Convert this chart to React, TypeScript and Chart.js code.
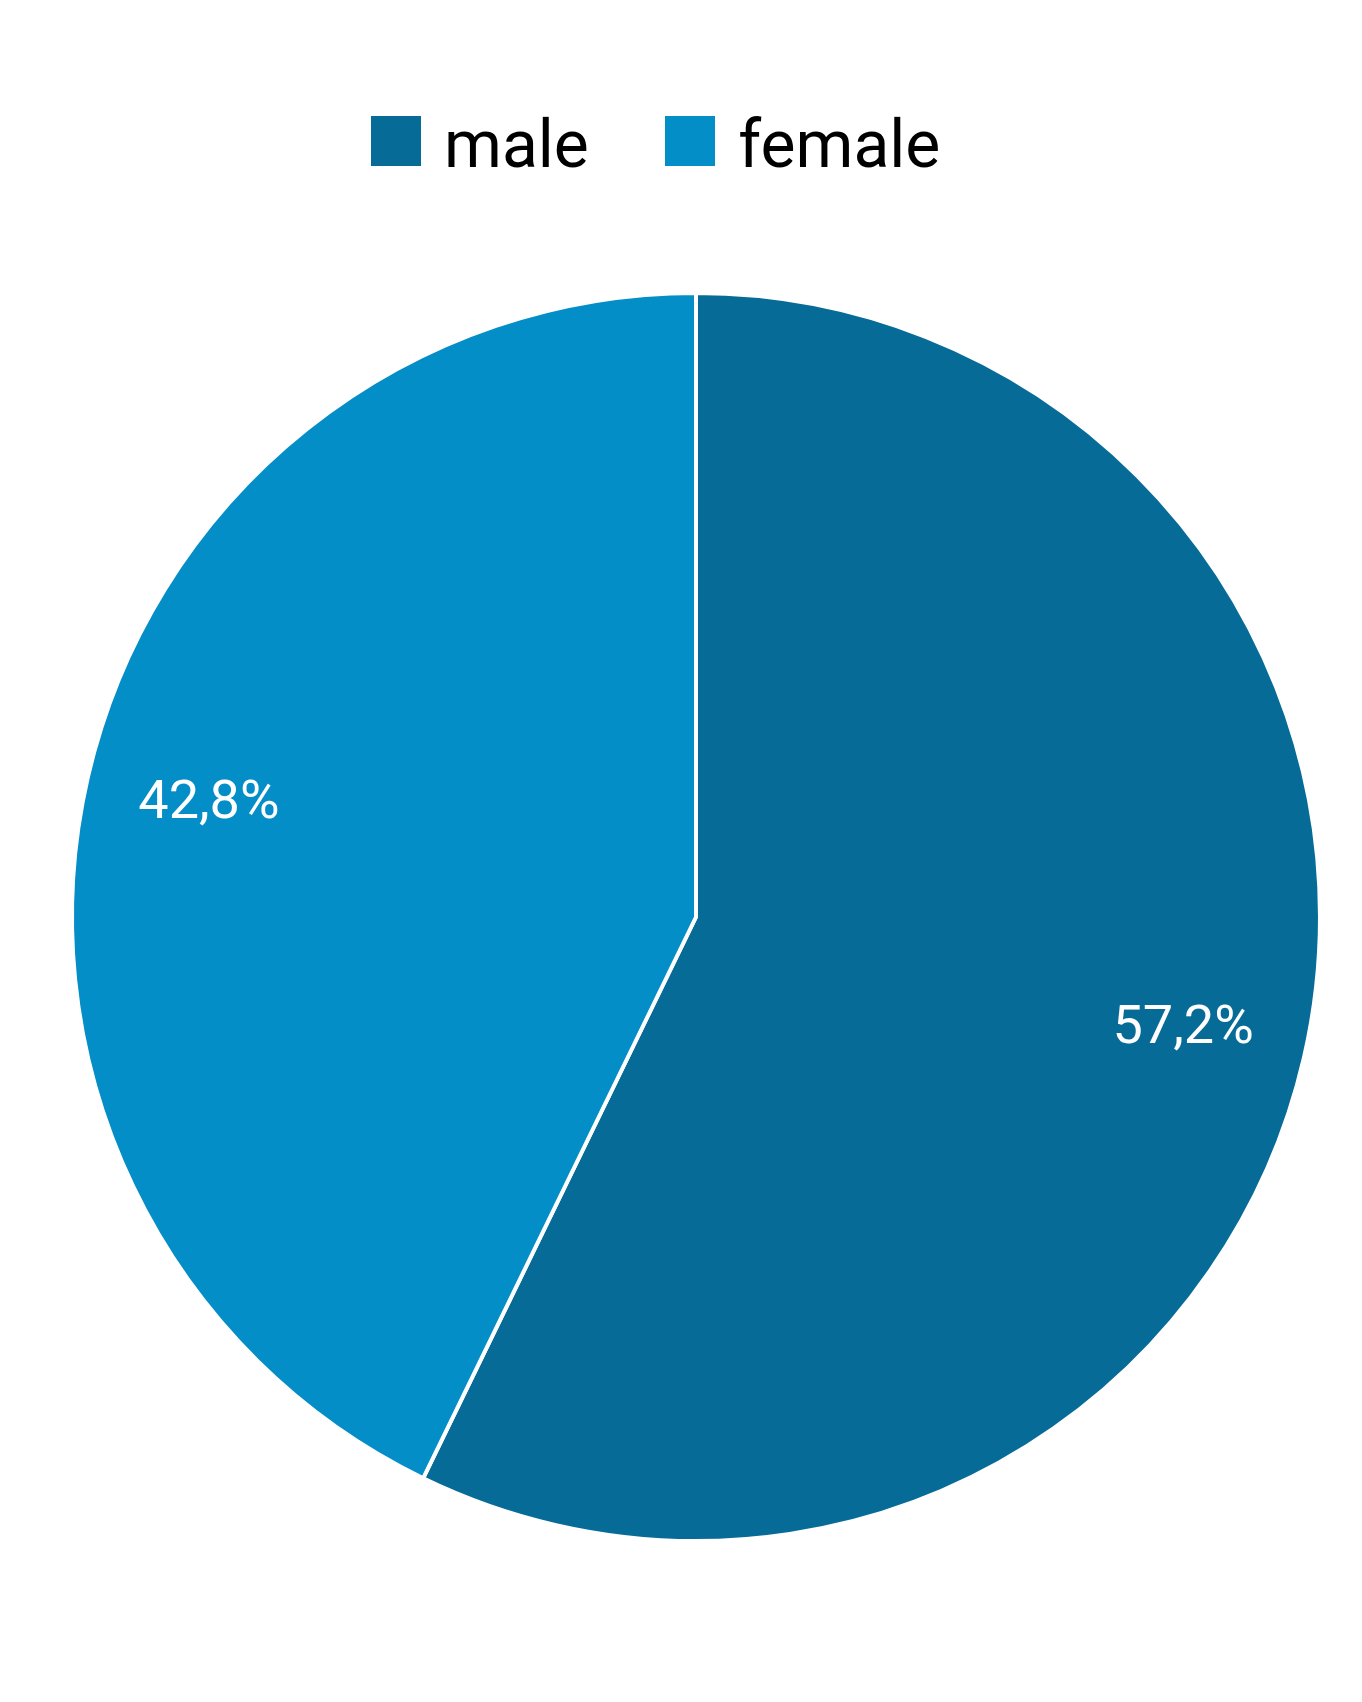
import React, { useEffect, useRef } from 'react';
import { Chart, registerables } from 'chart.js';

Chart.register(...registerables);

const categories: string[] = ['male', 'female'];
const shares: number[] = [57.2, 42.8];
const sliceColors: string[] = ['#076B98', '#048EC8'];

const LABEL_RADIUS_RATIO = 0.801;

const fmt = (v: number) => v.toFixed(1).replace('.', ',') + '%';

// legend swatch: square drawn in the upper part of a taller image so the
// square sits a little above the text's middle line
function makeSwatch(color: string): HTMLCanvasElement {
  const c = document.createElement('canvas');
  c.width = 50;
  c.height = 68;
  const g = c.getContext('2d')!;
  g.fillStyle = color;
  g.fillRect(0, 0, 50, 50);
  return c;
}

const sliceLabelPlugin = {
  id: 'sliceLabels',
  afterDatasetsDraw(chart: any) {
    const { ctx } = chart;
    const meta = chart.getDatasetMeta(0);
    const values = chart.data.datasets[0].data as number[];
    ctx.save();
    ctx.fillStyle = '#ffffff';
    ctx.font = '54px Roboto';
    ctx.textAlign = 'center';
    ctx.textBaseline = 'middle';
    meta.data.forEach((arc: any, i: number) => {
      const { x, y, startAngle, endAngle, outerRadius } = arc.getProps(
        ['x', 'y', 'startAngle', 'endAngle', 'outerRadius'],
        true
      );
      const mid = (startAngle + endAngle) / 2;
      const r = outerRadius * LABEL_RADIUS_RATIO;
      ctx.fillText(fmt(values[i]), x + Math.cos(mid) * r, y + Math.sin(mid) * r);
    });
    ctx.restore();
  },
};

export default function App() {
  const canvasRef = useRef<HTMLCanvasElement | null>(null);

  useEffect(() => {
    document.body.style.margin = '0';
    document.documentElement.style.overflow = 'hidden';
    const canvas = canvasRef.current;
    if (!canvas) return;
    const swatches = sliceColors.map(makeSwatch);
    const chart = new Chart(canvas, {
      type: 'pie',
      data: {
        labels: categories,
        datasets: [
          {
            data: shares,
            backgroundColor: sliceColors,
            borderColor: '#ffffff',
            borderWidth: 4,
            radius: 624,
            clip: false,
          } as any,
        ],
      },
      options: {
        animation: false,
        responsive: true,
        maintainAspectRatio: false,
        events: [],
        layout: {
          padding: { top: 30.5, left: 294.5, right: 264.5, bottom: 61 },
        },
        plugins: {
          tooltip: { enabled: false },
          legend: {
            display: true,
            position: 'top',
            align: 'start',
            labels: {
              usePointStyle: true,
              boxWidth: 30,
              boxHeight: 50,
              padding: 86.5,
              color: '#000000',
              font: { family: 'Roboto', size: 66 },
              generateLabels: (ch: any) =>
                (ch.data.labels as string[]).map((label, i) => ({
                  text: label,
                  fillStyle: sliceColors[i],
                  strokeStyle: sliceColors[i],
                  lineWidth: 0,
                  pointStyle: swatches[i],
                  hidden: false,
                  index: i,
                  fontColor: '#000000',
                })),
            },
          },
        },
      },
      plugins: [sliceLabelPlugin],
    });
    return () => chart.destroy();
  }, []);

  return (
    <div
      style={{
        position: 'absolute',
        left: 0,
        top: 0,
        width: 1362,
        height: 1702,
        background: '#ffffff',
      }}
    >
      <canvas ref={canvasRef} />
    </div>
  );
}
